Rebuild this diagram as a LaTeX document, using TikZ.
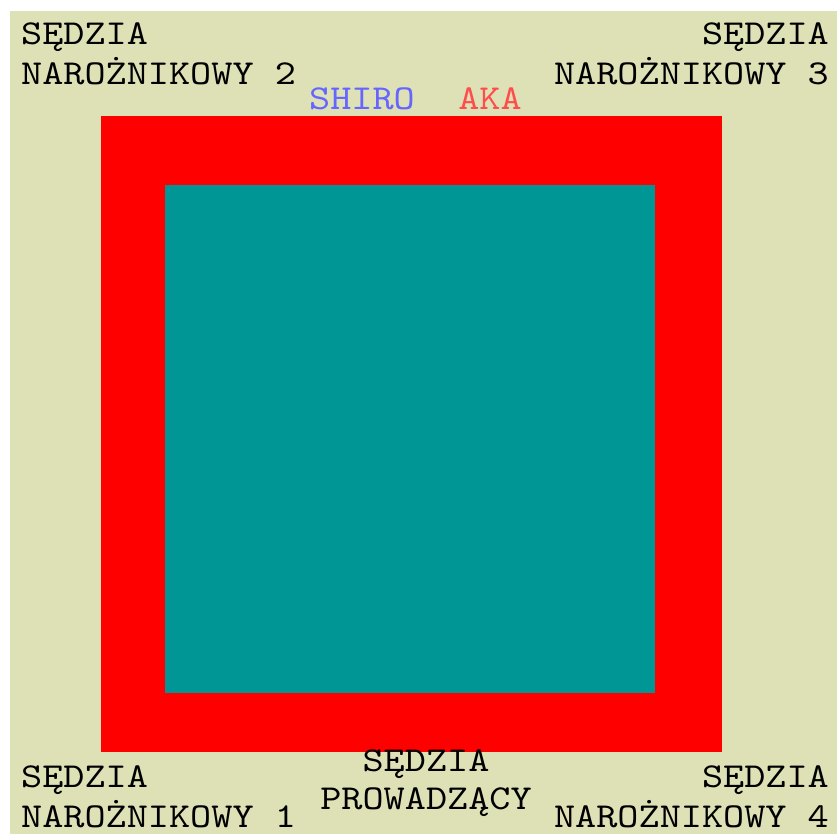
\documentclass[tikz,border=0pt]{standalone}
\usepackage{fontspec}
\newfontfamily\judgefont{lmmono10-regular.otf}[FakeStretch=1.15]
\usetikzlibrary{positioning}
\definecolor{matbg}{RGB}{222,224,182}
\definecolor{myteal}{RGB}{0,150,150}
\definecolor{myred}{RGB}{255,0,0}
\definecolor{myblue}{RGB}{102,102,255}
\definecolor{mypink}{RGB}{255,77,77}

\begin{document}
\begin{tikzpicture}[x=1pt, y=-1pt,
        lbl/.style={font=\judgefont\fontsize{35}{40}\selectfont,
                    inner sep=0pt, text=black},
        side/.style={lbl, text=#1}
      ]
        \useasboundingbox (0,0) rectangle (837,834);
        % mat
        \fill[matbg] (10,11) rectangle (837,834);
        \fill[myred] (101,116) rectangle (722,752);
        \fill[myteal] (165,185) rectangle (655,693);
        % corner judges
        \node[lbl, anchor=base west, align=left] (judge2) at (21,85)
              {SĘDZIA\\NAROŻNIKOWY 2};
        \node[lbl, anchor=base east, align=right] (judge3) at (829,85)
              {SĘDZIA\\NAROŻNIKOWY 3};
        \node[lbl, anchor=base west, align=left] (judge1) at (21,827)
              {SĘDZIA\\NAROŻNIKOWY 1};
        \node[lbl, anchor=base east, align=right] (judge4) at (829,827)
              {SĘDZIA\\NAROŻNIKOWY 4};
        \node[lbl, anchor=base, align=center, font=\judgefont\fontsize{35}{38}\selectfont] (referee) at (426,809)
              {SĘDZIA\\PROWADZĄCY};
        % competitors
        \node[side=myblue, anchor=base] (shiro) at (362,110) {SHIRO};
        \node[side=mypink, anchor=base] (aka) at (490,110) {AKA};
      \end{tikzpicture}
\end{document}
